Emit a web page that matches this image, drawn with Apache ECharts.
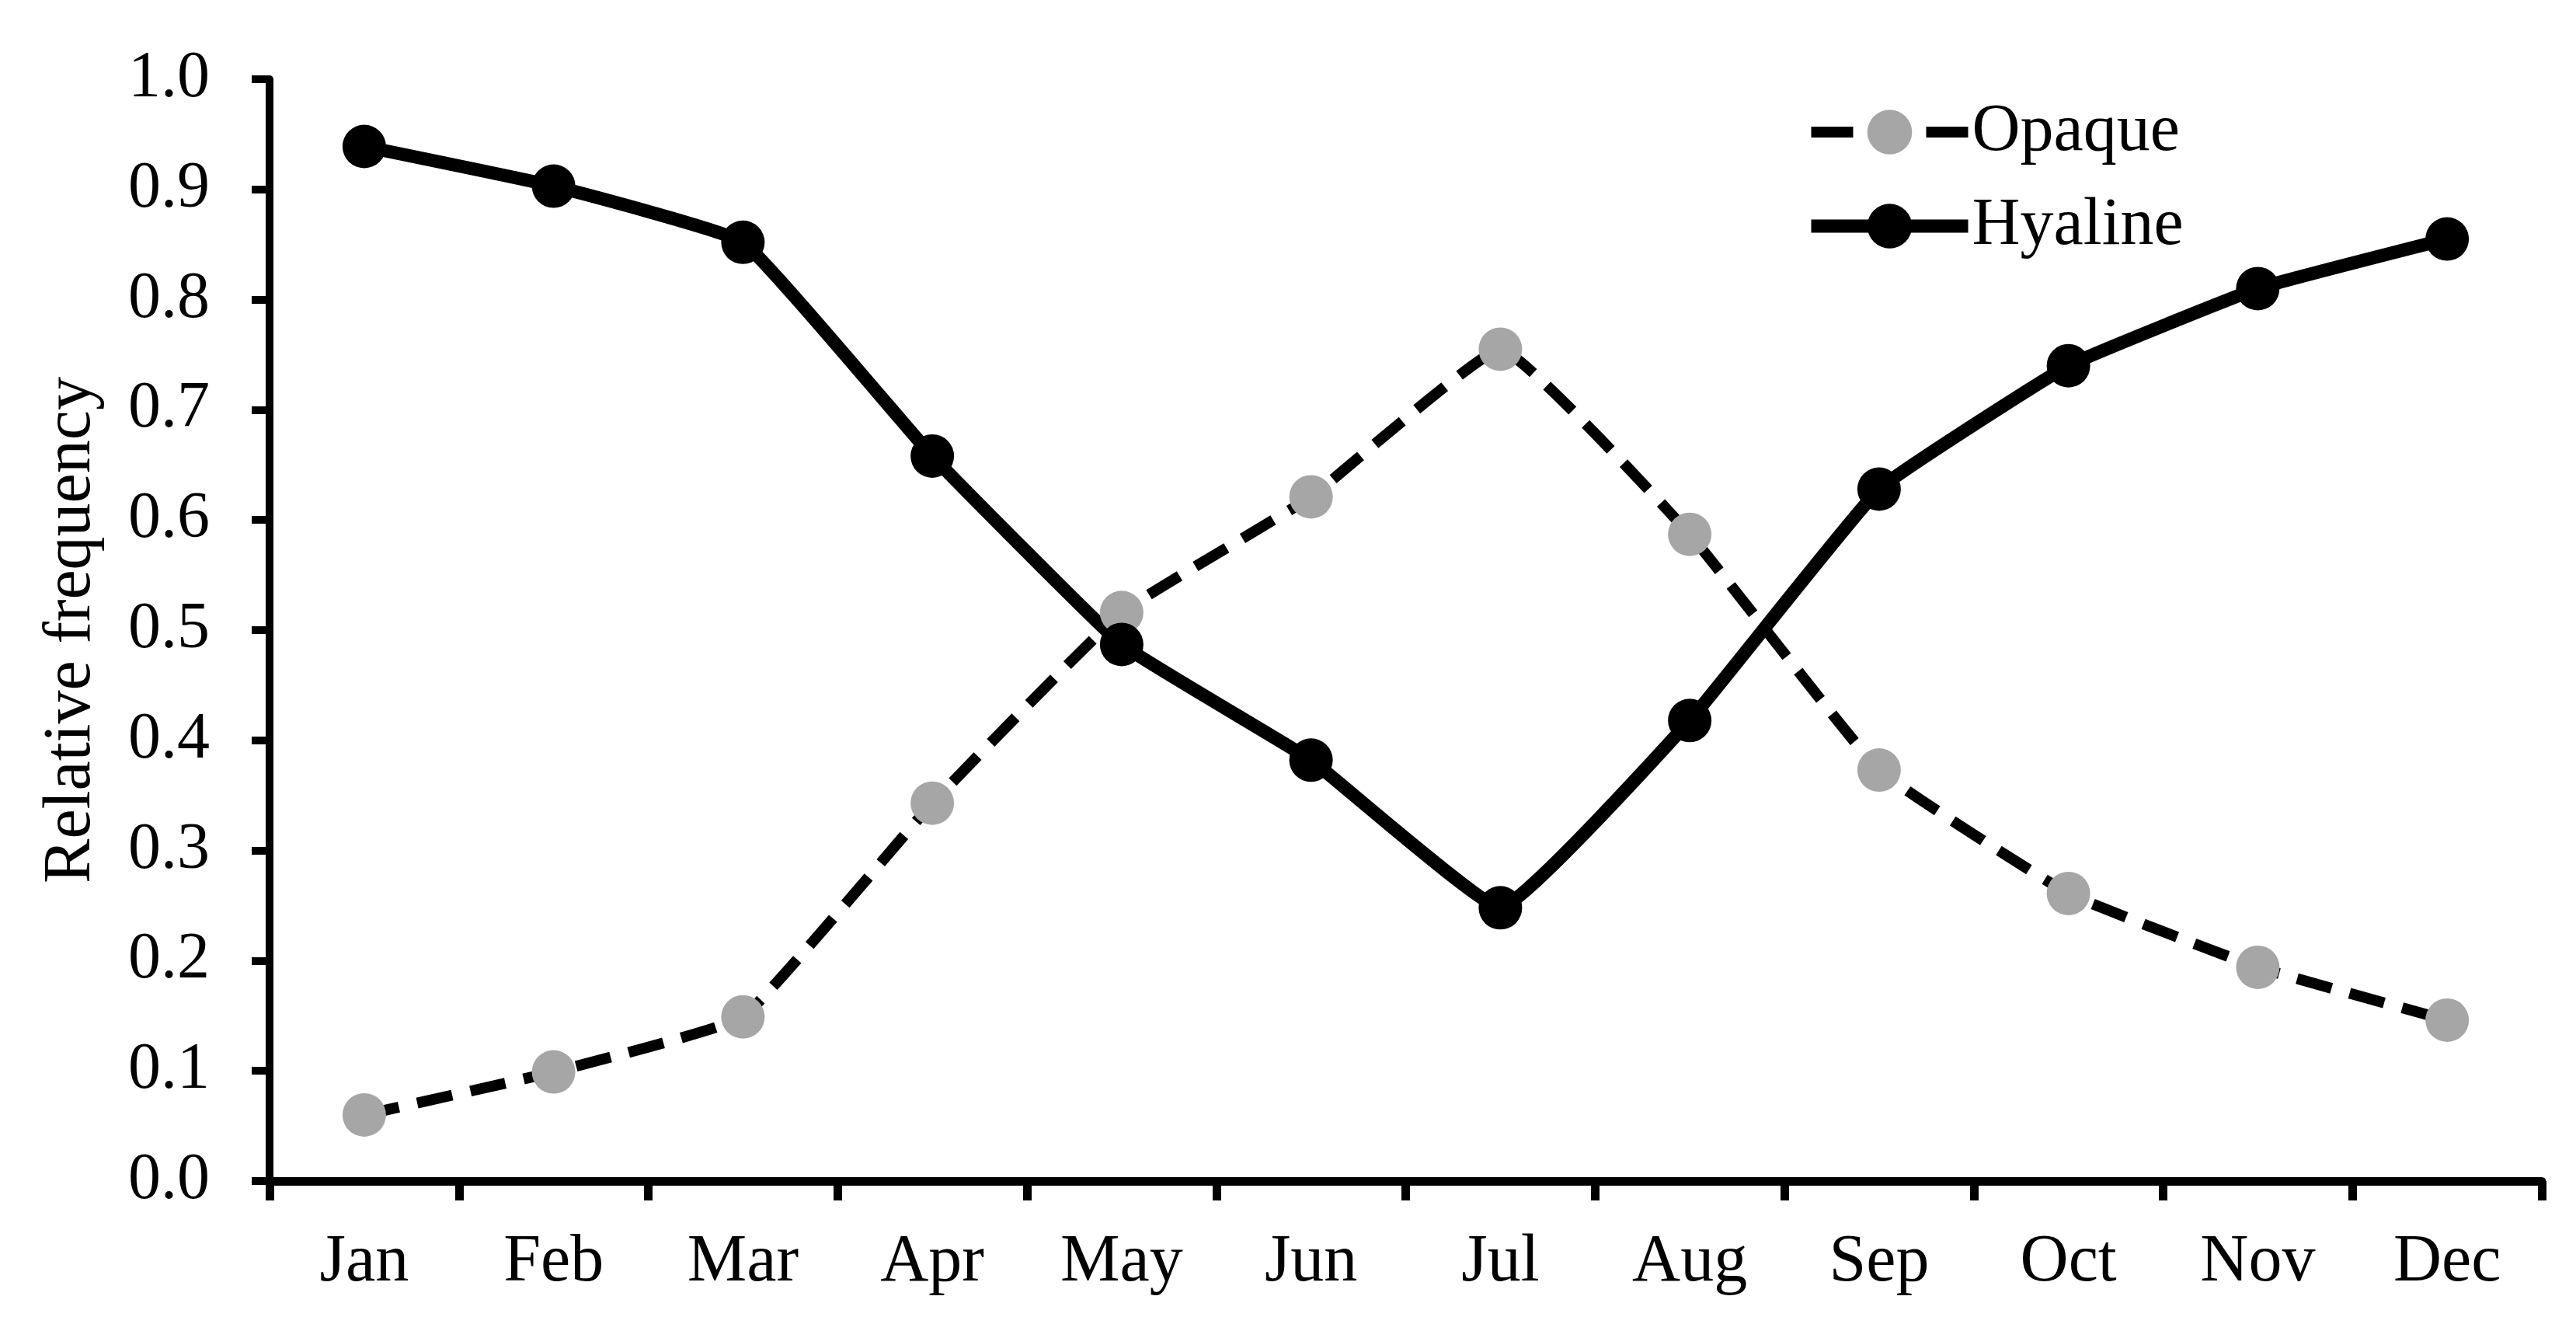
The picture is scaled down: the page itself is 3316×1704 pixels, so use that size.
<!DOCTYPE html>
<html>
<head>
<meta charset="utf-8">
<script src="https://cdn.jsdelivr.net/npm/echarts@6/dist/echarts.min.js"></script>
<style>
  html, body { margin: 0; padding: 0; background: #fff; }
  #chart { width: 3316px; height: 1704px; }
</style>
</head>
<body>
<div id="chart"></div>
<script>
const months = ['Jan', 'Feb', 'Mar', 'Apr', 'May', 'Jun', 'Jul', 'Aug', 'Sep', 'Oct', 'Nov', 'Dec']
const opaque = [0.060, 0.099, 0.149, 0.343, 0.516, 0.621, 0.755, 0.587, 0.373, 0.261, 0.194, 0.146]
const hyaline = [0.939, 0.903, 0.852, 0.658, 0.487, 0.382, 0.248, 0.418, 0.628, 0.740, 0.810, 0.855]

const font = 'Liberation Serif, Times New Roman, serif'
const dash = [46, 24]

const chart = echarts.init(document.getElementById('chart'))
chart.setOption({
  backgroundColor: '#fff',
  animation: false,
  textStyle: { fontFamily: font, color: '#000' },
  legend: {
    orient: 'vertical',
    left: 2318,
    top: 122,
    itemWidth: 202,
    itemHeight: 72,
    itemGap: 35,
    textStyle: { fontFamily: font, fontSize: 86, color: '#000' },
    data: [
      // legend icon: one short dash either side of the marker
      { name: 'Opaque', lineStyle: { width: 14, type: [54, 94], color: '#000' } },
      { name: 'Hyaline', lineStyle: { width: 17, color: '#000' } },
    ],
  },
  grid: {
    left: 347,
    right: 44,
    top: 102,
    bottom: 184,
    outerBoundsMode: 'none',
  },
  xAxis: {
    type: 'category',
    data: months,
    boundaryGap: true,
    axisLine: { lineStyle: { color: '#000', width: 11 } },
    axisTick: { show: true, length: 25, lineStyle: { color: '#000', width: 11 } },
    axisLabel: { color: '#000', fontFamily: font, fontSize: 86, margin: 62 },
    splitLine: { show: false },
  },
  yAxis: {
    type: 'value',
    min: 0,
    max: 1,
    interval: 0.1,
    name: 'Relative frequency',
    nameLocation: 'middle',
    nameGap: 212,
    nameTextStyle: { color: '#000', fontFamily: font, fontSize: 86 },
    axisLine: { show: true, lineStyle: { color: '#000', width: 10 } },
    axisTick: { show: true, length: 23, lineStyle: { color: '#000', width: 10 } },
    axisLabel: {
      color: '#000',
      fontFamily: font,
      fontSize: 84,
      margin: 77,
      formatter: (v) => v.toFixed(1),
    },
    splitLine: { show: false },
  },
  series: [
    {
      name: 'Opaque',
      type: 'line',
      data: opaque,
      smooth: 0.1,
      symbol: 'circle',
      symbolSize: 56,
      itemStyle: { color: '#a6a6a6' },
      lineStyle: { color: '#000', width: 14, type: dash },
    },
    {
      name: 'Hyaline',
      type: 'line',
      data: hyaline,
      smooth: 0.1,
      symbol: 'circle',
      symbolSize: 56,
      itemStyle: { color: '#000' },
      lineStyle: { color: '#000', width: 17 },
    },
  ],
})
</script>
</body>
</html>
